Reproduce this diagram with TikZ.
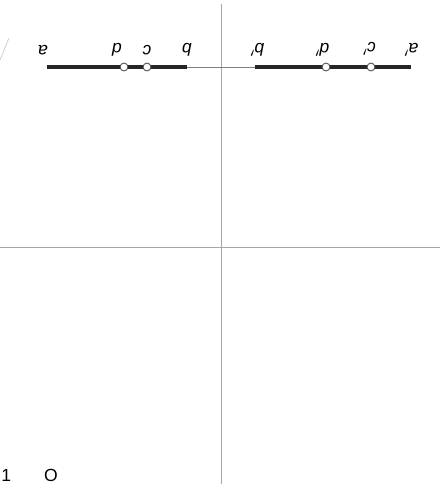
\documentclass[tikz,border=0pt]{standalone}
\usepackage{fontspec}
\setsansfont{Liberation Sans}
\begin{document}
\begin{tikzpicture}[x=0.02cm, y=-0.02cm, font=\sffamily\itshape,
  axis/.style={gray!70, line width=0.5pt},
  seg/.style={line width=2.2pt, black!85},
  thin/.style={gray, line width=0.4pt},
  pt/.style={circle, draw=gray!60!black, fill=white, inner sep=0pt, minimum size=4.5pt, line width=0.5pt},
  lbl/.style={rotate=180, inner sep=1pt}
]
  \useasboundingbox (0,0) rectangle (441,484);
  % axes
  \coordinate (vt) at (221,4);
  \coordinate (vb) at (221,484);
  \coordinate (hl) at (0,247);
  \coordinate (hr) at (440,247);
  \draw[axis] (vt) -- (vb);
  \draw[axis] (hl) -- (hr);
  % segment ends
  \coordinate (A)  at (47,67);
  \coordinate (B)  at (187,67);
  \coordinate (B') at (255,67);
  \coordinate (A') at (411,67);
  \draw[thin] (B) -- (B');
  \draw[seg] (A) -- (B);
  \draw[seg] (B') -- (A');
  \node[pt] (D)  at (124,67) {};
  \node[pt] (C)  at (147,67) {};
  \node[pt] (D') at (326,67) {};
  \node[pt] (C') at (371,67) {};
  % labels
  \node[lbl] (la)  at (43,50)  {a};
  \node[lbl] (ld)  at (117,50) {d};
  \node[lbl] (lc)  at (147,50) {c};
  \node[lbl] (lb)  at (187,50) {b};
  \node[lbl] (lb') at (257,50) {b$'$};
  \node[lbl] (ld') at (322,50) {d$'$};
  \node[lbl] (lc') at (369,49) {c$'$};
  \node[lbl] (la') at (411,50) {a$'$};
  \draw[gray!40] (9,38) -- (0,60);
  % figure number
  \node[font=\sffamily, inner sep=0pt, anchor=south west] (n1) at (1,482) {1};
  \node[font=\sffamily, inner sep=0pt, anchor=south] (n2) at (51,482) {O};
\end{tikzpicture}
\end{document}
